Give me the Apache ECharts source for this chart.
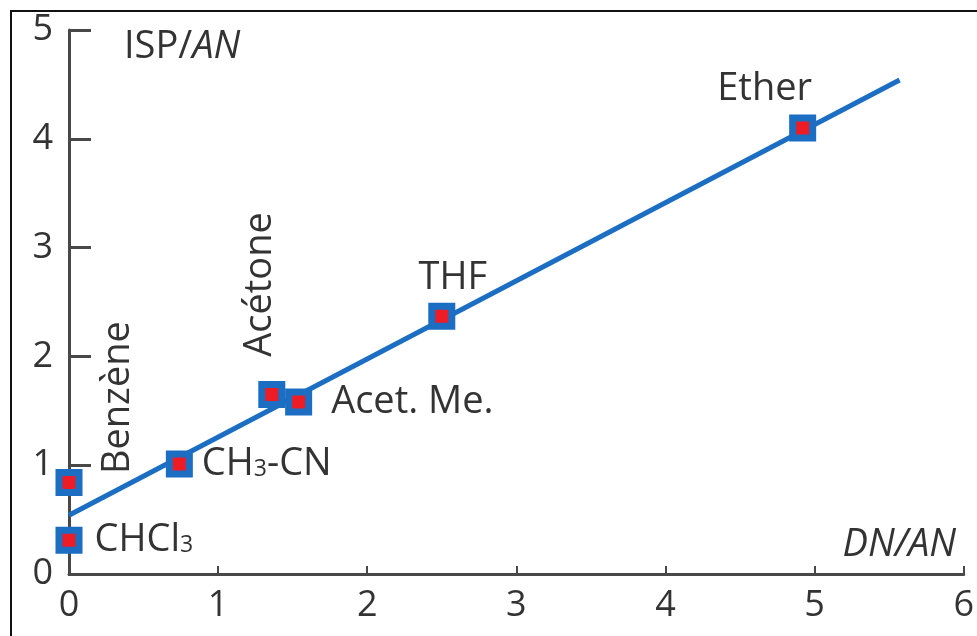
<!DOCTYPE html>
<html>
<head>
<meta charset="utf-8">
<script src="https://cdn.jsdelivr.net/npm/echarts@6/dist/echarts.min.js"></script>
<style>
  html, body { margin: 0; padding: 0; background: #fff; }
  #chart { width: 977px; height: 636px; }
</style>
</head>
<body>
<div id="chart"></div>
<script>
// Solvents: DN/AN (x) vs ISP/AN (y)
const solvents = ['CHCl3', 'Benzène', 'CH3-CN', 'Acétone', 'Acet. Me.', 'THF', 'Ether'];
const dnAn = [0.00, 0.00, 0.74, 1.36, 1.54, 2.50, 4.92];
const ispAn = [0.31, 0.84, 1.01, 1.65, 1.58, 2.37, 4.10];

// Fitted straight line (end points)
const fitX = [0.00, 5.57];
const fitY = [0.54, 4.54];

const xTicks = [0, 1, 2, 3, 4, 5, 6];
const yTicks = [0, 1, 2, 3, 4, 5];

const FONT = 'Open Sans';
const TEXT = '#333333';
const AXIS = '#484848';
const BLUE = '#1b6ec2';
const RED = '#ee1c25';
const FS = 36;   // tick labels
const LFS = 38;  // annotations

const subRich = {
  a: { fontFamily: FONT, fontSize: LFS, color: TEXT },
  s: { fontFamily: FONT, fontSize: 23, color: TEXT, verticalAlign: 'bottom', padding: [0, 0, 2, 0] }
};

// Label text and placement for each solvent
const labelText = {
  'CHCl3': '{a|CHCl}{s|3}',
  'CH3-CN': '{a|CH}{s|3}{a|-CN}'
};
const labelPlace = {
  'CHCl3':     { position: 'right', distance: 12 },
  'Benzène':   { position: 'inside', rotate: 90, offset: [85, 49] },
  'CH3-CN':    { position: 'right', distance: 9 },
  'Acétone':   { position: 'inside', rotate: 90, offset: [110, -12] },
  'Acet. Me.': { position: 'right', distance: 19 },
  'THF':       { position: 'top', distance: 5, offset: [11, 0] },
  'Ether':     { position: 'top', distance: 6, offset: [-38, 0] }
};

const points = solvents.map((name, i) => {
  const place = labelPlace[name];
  return {
    name: name,
    value: [dnAn[i], ispAn[i]],
    label: Object.assign({
      show: true,
      formatter: labelText[name] || name,
      fontFamily: FONT,
      fontSize: LFS,
      color: TEXT,
      rich: subRich
    }, place)
  };
});

const chart = echarts.init(document.getElementById('chart'), null, { renderer: 'canvas' });

const axisCommon = {
  type: 'value',
  interval: 1,
  splitLine: { show: false },
  axisLine: { show: true, onZero: false, lineStyle: { color: AXIS, width: 3 } },
  axisLabel: { fontFamily: FONT, fontSize: FS, color: TEXT, margin: 14 }
};

chart.setOption({
  animation: false,
  backgroundColor: '#fff',
  grid: { left: 69, right: 12, top: 30, bottom: 62 },
  xAxis: Object.assign({}, axisCommon, {
    min: xTicks[0], max: xTicks[xTicks.length - 1],
    axisTick: { show: true, inside: true, length: 8, lineStyle: { color: AXIS, width: 2 } }
  }),
  yAxis: Object.assign({}, axisCommon, {
    min: yTicks[0], max: yTicks[yTicks.length - 1],
    axisTick: { show: true, inside: true, length: 22, lineStyle: { color: AXIS, width: 3 } },
    axisLabel: Object.assign({}, axisCommon.axisLabel, { margin: 16 })
  }),
  graphic: [
    {
      type: 'rect', silent: true, z: 100,
      shape: { x: 11, y: 11, width: 1200, height: 1200 },
      style: { fill: 'none', stroke: '#111', lineWidth: 2 }
    },
    {
      type: 'text', x: 124, y: 47, z: 50,
      style: {
        text: '{n|ISP/}{i|AN}',
        verticalAlign: 'middle',
        rich: {
          n: { fontFamily: FONT, fontSize: LFS, fill: TEXT },
          i: { fontFamily: FONT, fontSize: LFS, fontStyle: 'italic', fill: TEXT }
        }
      }
    },
    {
      type: 'text', x: 956, y: 545, z: 50,
      style: {
        text: 'DN/AN',
        align: 'right', verticalAlign: 'middle',
        fontFamily: FONT, fontSize: LFS, fontStyle: 'italic', fill: TEXT
      }
    }
  ],
  series: [
    {
      type: 'line',
      data: fitX.map((x, i) => [x, fitY[i]]),
      showSymbol: false,
      lineStyle: { color: BLUE, width: 5 },
      z: 2
    },
    {
      type: 'scatter',
      data: points,
      symbol: 'rect',
      symbolSize: 20,
      itemStyle: { color: RED, borderColor: BLUE, borderWidth: 7, opacity: 1 },
      z: 3
    }
  ]
});
</script>
</body>
</html>
